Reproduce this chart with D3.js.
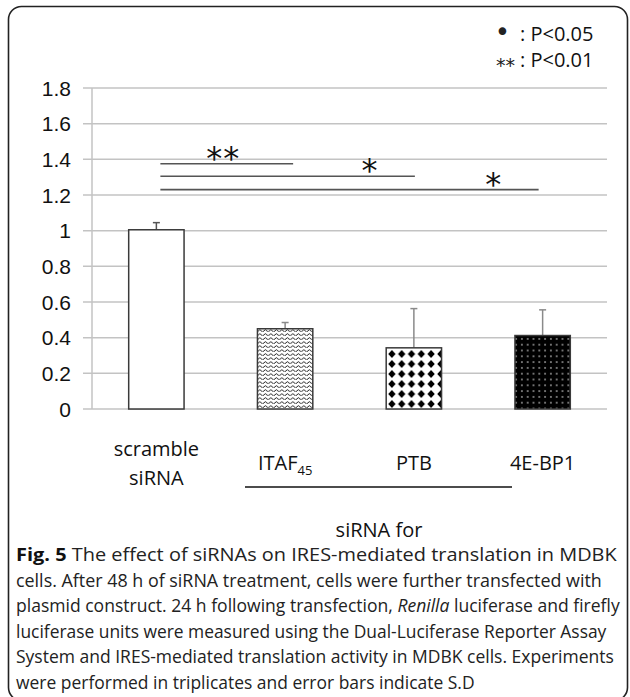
<!DOCTYPE html>
<html lang="en">
<head>
<meta charset="utf-8"/>
<title>Fig. 5 siRNA</title>
<script src="https://d3js.org/d3.v7.min.js"></script>
<style>
  body { margin: 0; background: #fff; }
  .grid line { stroke: #c3c3c3; stroke-width: 1.5px; }
  .tick-label { font-family: "Liberation Sans", Arial, sans-serif; font-size: 21px; fill: #111; }
  .cat { font-family: "Open Sans", sans-serif; font-size: 20px; fill: #111; }
  .caption { font-family: "Open Sans", sans-serif; font-size: 18px; fill: #222; }
</style>
</head>
<body>
<svg id="chart" width="630" height="697"></svg>
<script>
// data
const categories = ["scramble siRNA", "ITAF45", "PTB", "4E-BP1"];
const means = [1.005, 0.45, 0.343, 0.412];
const sd = [0.04, 0.035, 0.22, 0.144];
const fills = ["none", "zigzag", "diamonds", "dots"];
const yTicks = [0, 0.2, 0.4, 0.6, 0.8, 1, 1.2, 1.4, 1.6, 1.8];
// significance brackets: from scramble to each knockdown
const sigFrom = ["scramble siRNA", "scramble siRNA", "scramble siRNA"];
const sigTo = ["ITAF45", "PTB", "4E-BP1"];
const sigLevel = [1.375, 1.305, 1.23];
const sigLabel = ["**", "*", "*"];
const legendMarks = ["\u2022", "**"];
const legendText = [": P<0.05", ": P<0.01"];
const captionLines = [
  [["Fig. 5", "bold"], [" The effect of siRNAs on IRES-mediated translation in MDBK", ""]],
  [["cells. After 48 h of siRNA treatment, cells were further transfected with", ""]],
  [["plasmid construct. 24 h following transfection, ", ""], ["Renilla", "italic"], [" luciferase and firefly", ""]],
  [["luciferase units were measured using the Dual-Luciferase Reporter Assay", ""]],
  [["System and IRES-mediated translation activity in MDBK cells. Experiments", ""]],
  [["were performed in triplicates and error bars indicate S.D", ""]]
];
const captionWidths = [601, 586, 604, 591, 598, 459];

const svg = d3.select("#chart");

// rounded frame
svg.append("rect")
  .attr("x", 8.5).attr("y", 6.5)
  .attr("width", 619).attr("height", 694)
  .attr("rx", 13)
  .attr("fill", "none")
  .attr("stroke", "#222")
  .attr("stroke-width", 1.6);

const defs = svg.append("defs");

// wavy lines
const zz = defs.append("pattern").attr("id", "zigzag")
  .attr("patternUnits", "userSpaceOnUse")
  .attr("width", 5.5).attr("height", 4);
zz.append("rect").attr("width", 5.5).attr("height", 4).attr("fill", "#fff");
zz.append("path")
  .attr("d", "M0,2.8 Q1.375,0.4 2.75,2.8 T5.5,2.8")
  .attr("fill", "none").attr("stroke", "#111").attr("stroke-width", 0.9);

// black diamonds
const dm = defs.append("pattern").attr("id", "diamonds")
  .attr("patternUnits", "userSpaceOnUse")
  .attr("x", 387).attr("y", 349)
  .attr("width", 9.8).attr("height", 10);
dm.append("rect").attr("width", 9.8).attr("height", 10).attr("fill", "#fff");
dm.append("path").attr("d", "M4.9,1 L8.6,5 L4.9,9 L1.2,5 Z").attr("fill", "#000");

// black with white dots
const dt = defs.append("pattern").attr("id", "dots")
  .attr("patternUnits", "userSpaceOnUse")
  .attr("x", 519).attr("y", 336)
  .attr("width", 5.8).attr("height", 5.8);
dt.append("rect").attr("width", 5.8).attr("height", 5.8).attr("fill", "#000");
dt.append("rect").attr("x", 2.2).attr("y", 2.2).attr("width", 1.4).attr("height", 1.4).attr("fill", "#d8d8d8");

const plotLeft = 92, plotRight = 607, plotTop = 88, plotBottom = 409;

const x = d3.scaleBand()
  .domain(categories)
  .range([plotLeft, plotRight])
  .paddingInner(0.57)
  .paddingOuter(0.285);

const y = d3.scaleLinear()
  .domain([0, 1.8])
  .range([plotBottom, plotTop]);

// gridlines with outside tick stubs
const grid = svg.append("g").attr("class", "grid");
grid.selectAll("line").data(yTicks).enter().append("line")
  .attr("x1", plotLeft - 9).attr("x2", plotRight)
  .attr("y1", d => y(d)).attr("y2", d => y(d));
grid.append("line")
  .attr("x1", plotLeft).attr("x2", plotLeft)
  .attr("y1", y(1.8)).attr("y2", y(0));

svg.selectAll(".tick-label").data(yTicks).enter().append("text")
  .attr("class", "tick-label")
  .attr("x", 71)
  .attr("y", d => y(d))
  .attr("dy", "0.36em")
  .attr("text-anchor", "end")
  .text(d => d3.format("")(d));

// error bars (upper only)
const err = svg.append("g");
categories.forEach((c, i) => {
  const cx = x(c) + x.bandwidth() / 2;
  const col = i === 0 ? "#555" : "#8a8a8a";
  err.append("line")
    .attr("x1", cx).attr("x2", cx)
    .attr("y1", y(means[i])).attr("y2", y(means[i] + sd[i]))
    .attr("stroke", col).attr("stroke-width", 1.5);
  err.append("line")
    .attr("x1", cx - 3.5).attr("x2", cx + 3.5)
    .attr("y1", y(means[i] + sd[i])).attr("y2", y(means[i] + sd[i]))
    .attr("stroke", col).attr("stroke-width", 1.5);
});

// bars
svg.append("g").selectAll("rect").data(categories).enter().append("rect")
  .attr("x", d => x(d))
  .attr("y", (d, i) => y(means[i]))
  .attr("width", x.bandwidth())
  .attr("height", (d, i) => y(0) - y(means[i]))
  .attr("fill", (d, i) => fills[i] === "none" ? "#fff" : "url(#" + fills[i] + ")")
  .attr("stroke", "#3a3a3a")
  .attr("stroke-width", 1.5);

// significance lines + stars
const starOffset = [70, 45, 45];
sigTo.forEach((t, i) => {
  const x1 = x(sigFrom[i]) + x.bandwidth() / 2 + 4;
  const x2 = x(t) + x.bandwidth() / 2 + [8, 1, -4][i];
  const ly = y(sigLevel[i]);
  svg.append("line")
    .attr("x1", x1).attr("x2", x2)
    .attr("y1", ly).attr("y2", ly)
    .attr("stroke", "#555").attr("stroke-width", 1.6);
  svg.append("text")
    .attr("x", x2 - starOffset[i])
    .attr("y", ly + 5)
    .attr("text-anchor", "middle")
    .style("font-family", "DejaVu Sans, sans-serif")
    .style("font-size", "32px")
    .style("letter-spacing", "1px")
    .attr("fill", "#111")
    .text(sigLabel[i]);
});

// legend
legendText.forEach((t, i) => {
  const ly = 41 + i * 26;
  svg.append("text")
    .attr("x", i === 0 ? 510 : 515).attr("y", i === 0 ? ly : ly + 5)
    .attr("text-anchor", "end")
    .style("font-family", "DejaVu Sans, sans-serif")
    .style("font-size", i === 0 ? "26px" : "19px")
    .attr("fill", "#222")
    .text(legendMarks[i]);
  svg.append("text")
    .attr("x", 520).attr("y", ly)
    .attr("class", "cat")
    .style("font-size", "20px")
    .text(t);
});

// category labels
const labY = 470;
svg.append("text").attr("class", "cat")
  .attr("x", x(categories[0]) + x.bandwidth() / 2).attr("y", 456)
  .attr("text-anchor", "middle").text("scramble");
svg.append("text").attr("class", "cat")
  .attr("x", x(categories[0]) + x.bandwidth() / 2).attr("y", 485)
  .attr("text-anchor", "middle").text("siRNA");
const itaf = svg.append("text").attr("class", "cat")
  .attr("x", x(categories[1]) + x.bandwidth() / 2).attr("y", labY)
  .attr("text-anchor", "middle");
itaf.append("tspan").text("ITAF");
itaf.append("tspan").attr("dy", 5).style("font-size", "13px").text("45");
categories.slice(2).forEach(c => {
  svg.append("text").attr("class", "cat")
    .attr("x", x(c) + x.bandwidth() / 2).attr("y", labY)
    .attr("text-anchor", "middle").text(c);
});

svg.append("line")
  .attr("x1", 245).attr("x2", 512)
  .attr("y1", 487).attr("y2", 487)
  .attr("stroke", "#111").attr("stroke-width", 1.4);

svg.append("text").attr("class", "cat")
  .attr("x", 379).attr("y", 537)
  .attr("text-anchor", "middle").text("siRNA for");

// caption: squeeze each line horizontally to the width it has in the figure
captionLines.forEach((parts, i) => {
  const t = svg.append("text").attr("class", "caption")
    .attr("x", 0).attr("y", 0);
  parts.forEach(p => {
    const s = t.append("tspan").text(p[0]);
    if (p[1] === "bold") s.style("font-weight", "bold").attr("fill", "#111");
    if (p[1] === "italic") s.style("font-style", "italic");
  });
  const natural = t.node().getComputedTextLength();
  t.attr("transform", "translate(16," + (561 + i * 25.6) + ") scale(" + (captionWidths[i] / natural) + ",1)");
});
</script>
</body>
</html>
